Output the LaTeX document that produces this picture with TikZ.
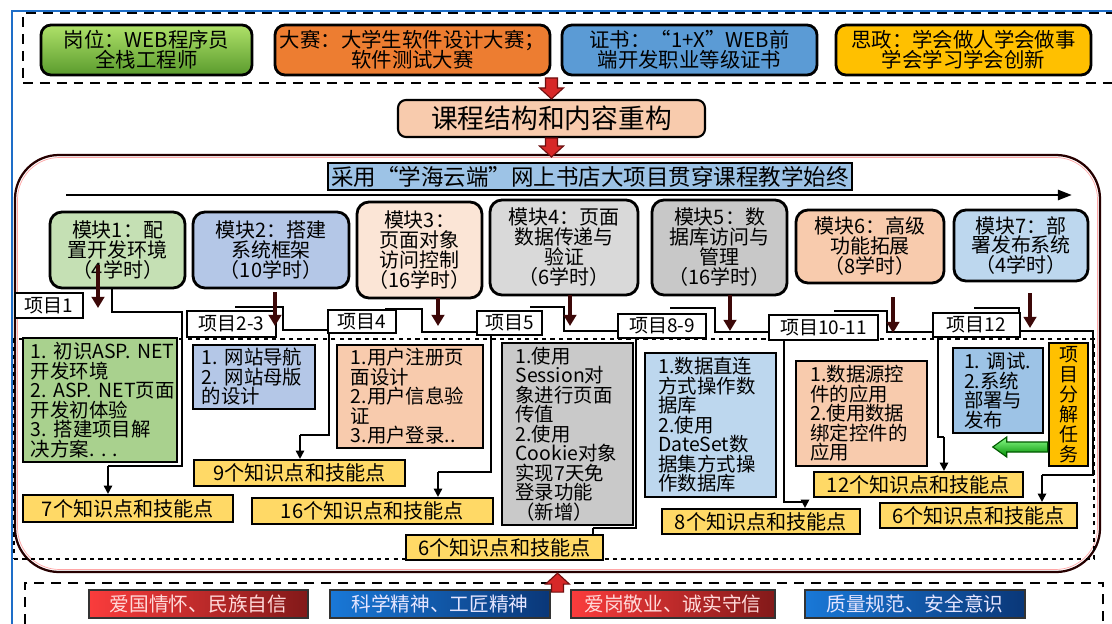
\documentclass[tikz,border=0pt]{standalone}
\usepackage{fontspec}
\setmainfont{Noto Sans CJK SC}
\usetikzlibrary{calc, positioning, arrows.meta}

\definecolor{jobgreenA}{RGB}{175,225,105}
\definecolor{jobgreenB}{RGB}{90,155,45}
\definecolor{contestorange}{RGB}{237,125,49}
\definecolor{certblue}{RGB}{91,155,213}
\definecolor{ideagold}{RGB}{255,192,0}
\definecolor{peach}{RGB}{248,203,173}
\definecolor{lightpeach}{RGB}{251,229,214}
\definecolor{bannerblue}{RGB}{157,195,230}
\definecolor{modgreen}{RGB}{197,224,180}
\definecolor{modblue}{RGB}{180,199,231}
\definecolor{modgray}{RGB}{217,217,217}
\definecolor{modsky}{RGB}{189,215,238}
\definecolor{taskgreen}{RGB}{169,209,142}
\definecolor{taskgray}{RGB}{201,201,201}
\definecolor{pointyellow}{RGB}{255,217,102}
\definecolor{frameblue}{RGB}{30,110,200}
\definecolor{arrowred}{RGB}{215,40,40}
\definecolor{arrowdark}{RGB}{110,15,15}
\definecolor{valredA}{RGB}{250,60,60}
\definecolor{valredB}{RGB}{130,25,25}
\definecolor{valblueA}{RGB}{25,120,215}
\definecolor{valblueB}{RGB}{10,55,120}

% keep lines on the baseline grid
\setlength\lineskiplimit{-100pt}

\begin{document}
\begin{tikzpicture}[x=0.025cm, y=-0.025cm,
  cornerbox/.style n args={4}{minimum width={(#3-#1)*0.025cm}, minimum height={(#4-#2)*0.025cm}, at={({(#1+#3)/2},{(#2+#4)/2})}},
  topbox/.style={draw, rounded corners=0.25cm, line width=2pt, inner sep=0pt, align=center, font=\fontsize{14.5}{14.2}\selectfont},
  modbox/.style={draw, rounded corners=0.3cm, line width=2pt, inner sep=0pt, align=center, font=\fontsize{14.2}{14.2}\selectfont},
  projtag/.style={draw, fill=white, line width=1.3pt, inner sep=0pt, font=\fontsize{13.5}{14}\selectfont},
  taskbox/.style={draw, line width=1.8pt, inner sep=0pt, align=left, font=\fontsize{13.8}{13.9}\selectfont},
  pointbox/.style={draw, fill=pointyellow, line width=1.5pt, inner sep=0pt, font=\fontsize{14.3}{15}\selectfont},
  valbox/.style={draw=black!80, line width=1pt, inner sep=0pt, font=\fontsize{14}{15}\selectfont},
  dashframe/.style={draw, line width=1.8pt, dash pattern=on 7pt off 5pt, inner sep=0pt},
  link/.style={line width=1.3pt},
  linkarrow/.style={link, -{Triangle[length=6pt,width=6pt]}},
  modarrow/.style={line width=2.8pt, draw=arrowdark!55!black, -{Triangle[length=8pt,width=9pt]}},
  blockarrow/.style={fill=arrowred, draw=arrowdark, line width=0.8pt}
]
\useasboundingbox (0,0) rectangle (1112,624);

% Blue frame
\draw[line width=1.5pt, frameblue] (12,624) -- (12,11) -- (1112,11);

% Goals
\node[dashframe, cornerbox={23}{13}{1125}{83}] (goal) {};
\node[topbox, top color=jobgreenA, bottom color=jobgreenB, cornerbox={41}{25}{252}{75}] (job) {岗位：WEB程序员\\全栈工程师};
\node[topbox, fill=contestorange, cornerbox={275}{25}{550}{75}] (contest) {大赛：大学生软件设计大赛；\\软件测试大赛};
\node[topbox, fill=certblue, cornerbox={562}{25}{817}{75}] (cert) {证书：“1+X”WEB前\\端开发职业等级证书};
\node[topbox, fill=ideagold, cornerbox={836}{25}{1091}{75}] (idea) {思政：学会做人学会做事\\学会学习学会创新};

% Course restructuring
\node[draw, fill=peach, rounded corners=0.2cm, line width=1.5pt, inner sep=0pt, font=\fontsize{19}{19}\selectfont, cornerbox={398}{100}{705}{137}] (kc) {课程结构和内容重构};
\draw[blockarrow] (kc.north) -- ++(12,-11) -- ++(-6,0) -- ++(0,-10) -- ++(-12,0) -- ++(0,10) -- ++(-6,0) -- cycle;

% Main frame
\node[draw=black!85!red, rounded corners=1.1cm, line width=1.6pt, inner sep=0pt, cornerbox={15}{155}{1100}{572}] (core) {};
\draw[red!35, line width=0.5pt, rounded corners=1.05cm] (17.5,157.5) rectangle (1097.5,569.5);
\draw[blockarrow] (kc.south) ++(-6,0) -- ++(12,0) -- ++(0,8) -- ++(6,0) -- ++(-12,11) -- ++(-12,-11) -- ++(6,0) -- cycle;
\node[draw, fill=bannerblue, line width=1.5pt, inner sep=0pt, font=\fontsize{16}{16}\selectfont, cornerbox={328}{163}{852}{190}] (banner) {采用“学海云端”网上书店大项目贯穿课程教学始终};
\coordinate (flowa) at (66,195);
\coordinate (flowb) at (1072,195);
\draw[line width=2pt, -{Triangle[length=10pt,width=7pt]}] (flowa) -- (flowb);
\node[draw, dashed, line width=0.9pt, inner sep=0pt, cornerbox={14}{339}{1094}{559}] (tasks) {};

% Modules
\node[modbox, fill=modgreen, cornerbox={50}{212}{185}{288}] (m1) {模块1：配\\置开发环境\\（4学时）};
\node[modbox, fill=modblue, cornerbox={193}{212}{349}{288}] (m2) {模块2：搭建\\系统框架\\（10学时）};
\node[modbox, fill=lightpeach, cornerbox={357}{202}{482}{298}] (m3) {模块3：\\页面对象\\访问控制\\（16学时）};
\node[modbox, fill=modgray, cornerbox={490}{200}{638}{295}] (m4) {模块4：页面\\数据传递与\\验证\\（6学时）};
\node[modbox, fill=modgray!92!black, cornerbox={652}{200}{787}{295}] (m5) {模块5：数\\据库访问与\\管理\\（16学时）};
\node[modbox, fill=peach, cornerbox={796}{210}{944}{283}] (m6) {模块6：高级\\功能拓展\\（8学时）};
\node[modbox, fill=modsky, cornerbox={954}{210}{1088}{281}] (m7) {模块7：部\\署发布系统\\（4学时）};

% Tasks
\node[taskbox, fill=taskgreen, text width=3.45cm, cornerbox={23}{338}{177}{462}] (b1) {1.~初识ASP.~NET\\开发环境\\2.~ASP.~NET页面\\开发初体验\\3.~搭建项目解\\决方案.~.~.};
\node[taskbox, fill=modblue, text width=2.6cm, cornerbox={193}{345}{315}{409}] (b2) {1.~网站导航\\2.~网站母版\\的设计};
\node[taskbox, fill=peach, text width=2.95cm, cornerbox={337}{345}{483}{448}] (b3) {1.用户注册页\\面设计\\2.用户信息验\\证\\3.用户登录..};
\node[taskbox, fill=taskgray, text width=2.6cm, cornerbox={502}{343}{633}{525}] (b4) {1.使用\\Session对\\象进行页面\\传值\\2.使用\\Cookie对象\\实现7天免\\登录功能\\（新增）};
\node[taskbox, fill=modsky, text width=2.6cm, cornerbox={645}{353}{776}{497}] (b5) {1.数据直连\\方式操作数\\据库\\2.使用\\DateSet数\\据集方式操\\作数据库};
\node[taskbox, fill=peach, text width=2.55cm, cornerbox={796}{361}{927}{466}] (b6) {1.数据源控\\件的应用\\2.使用数据\\绑定控件的\\应用};
\node[taskbox, fill=bannerblue, text width=1.7cm, cornerbox={953}{348}{1043}{433}] (b7) {1.~调试.\\2.系统\\部署与\\发布};
\node[taskbox, fill=ideagold, align=center, font=\fontsize{13.5}{14.2}\selectfont, cornerbox={1049}{343}{1088}{466}] (b8) {项\\目\\分\\解\\任\\务};
\path (b8.west) ++(0,42.5) coordinate (ga);
\draw[draw=green!35!black, line width=0.8pt, top color=green!45!white, bottom color=green!55!black] (ga) -- ++(0,-5) -- ++(-41,0) -- ++(0,-5) -- ++(-14,10) -- ++(14,10) -- ++(0,-5) -- ++(41,0) -- cycle;

% Knowledge points
\node[pointbox, cornerbox={23}{495}{233}{522}] (k1) {7个知识点和技能点};
\node[pointbox, cornerbox={194}{460}{405}{486}] (k2) {9个知识点和技能点};
\node[pointbox, cornerbox={252}{498}{493}{524}] (k3) {16个知识点和技能点};
\node[pointbox, cornerbox={406}{535}{603}{560}] (k4) {6个知识点和技能点};
\node[pointbox, cornerbox={662}{509}{860}{534}] (k5) {8个知识点和技能点};
\node[pointbox, cornerbox={814}{472}{1023}{497}] (k6) {12个知识点和技能点};
\node[pointbox, cornerbox={880}{503}{1077}{528}] (k7) {6个知识点和技能点};

% Project links
\draw[link] (112,288) |- (182,312) |- (108,466) coordinate (t1);
\draw[linkarrow] (t1) -- (t1 |- k1.north);
\draw[link] (235,307) -| (283,330) -- (329,330) |- (300,435) coordinate (t2);
\draw[linkarrow] (t2) -- (t2 |- k2.north);
\draw[link] (385,309) -| (422,332) -| (491,472) -- (438,472) coordinate (t3);
\draw[linkarrow] (t3) -- (t3 |- k3.north);
\draw[link] (530,307) -| (564,331) -| (636,528) -- (593,528) coordinate (t4);
\draw[link] (t4) -- (t4 |- k4.north);
\draw[link] (670,308) -| (715,332) -| (784,502) -- (805,502) coordinate (t5);
\draw[linkarrow] (t5) -- (t5 |- k5.north);
\draw[link] (834,311) -| (887,332) -| (938,437) -- (944,437) coordinate (t6);
\draw[linkarrow] (t6) -- (t6 |- k6.north);
\draw[link] (974,308) -| (1019,331) -| (1093,475) -- (1042,475) coordinate (t7);
\draw[linkarrow] (t7) -- (t7 |- k7.north);

% Project tags
\node[projtag, cornerbox={15}{293}{83}{318}] (p1) {项目1};
\node[projtag, cornerbox={187}{311}{276}{337}] (p2) {项目2-3};
\node[projtag, cornerbox={328}{310}{396}{333}] (p3) {项目4};
\node[projtag, cornerbox={477}{311}{542}{335}] (p4) {项目5};
\node[projtag, cornerbox={618}{314}{706}{338}] (p5) {项目8-9};
\node[projtag, cornerbox={769}{315}{878}{340}] (p6) {项目10-11};
\node[projtag, cornerbox={933}{313}{1020}{337}] (p7) {项目12};

% Module arrows
\draw[modarrow] (98,265) -- (98,308);
\draw[modarrow] (275,292) -- (275,326);
\draw[modarrow] (438,298) -- (438,326);
\draw[modarrow] (570,295) -- (570,326);
\draw[modarrow] (730,295) -- (730,331);
\draw[modarrow] (893,297) -- (893,333);
\draw[modarrow] (1030,293) -- (1030,328);

% Values
\node[dashframe, cornerbox={25}{583}{1103}{640}] (values) {};
\draw[blockarrow] (core.south) -- ++(12,11) -- ++(-6,0) -- ++(0,8) -- ++(-12,0) -- ++(0,-8) -- ++(-6,0) -- cycle;
\node[valbox, left color=valredA, right color=valredB, text=red!15!white, cornerbox={89}{590}{308}{618}] (v1) {爱国情怀、民族自信};
\node[valbox, left color=valblueA, right color=valblueB, text=blue!10!white, cornerbox={330}{590}{550}{618}] (v2) {科学精神、工匠精神};
\node[valbox, left color=valredA, right color=valredB, text=red!15!white, cornerbox={571}{590}{775}{618}] (v3) {爱岗敬业、诚实守信};
\node[valbox, left color=valblueA, right color=valblueB, text=blue!10!white, cornerbox={805}{590}{1025}{618}] (v4) {质量规范、安全意识};
\end{tikzpicture}
\end{document}
